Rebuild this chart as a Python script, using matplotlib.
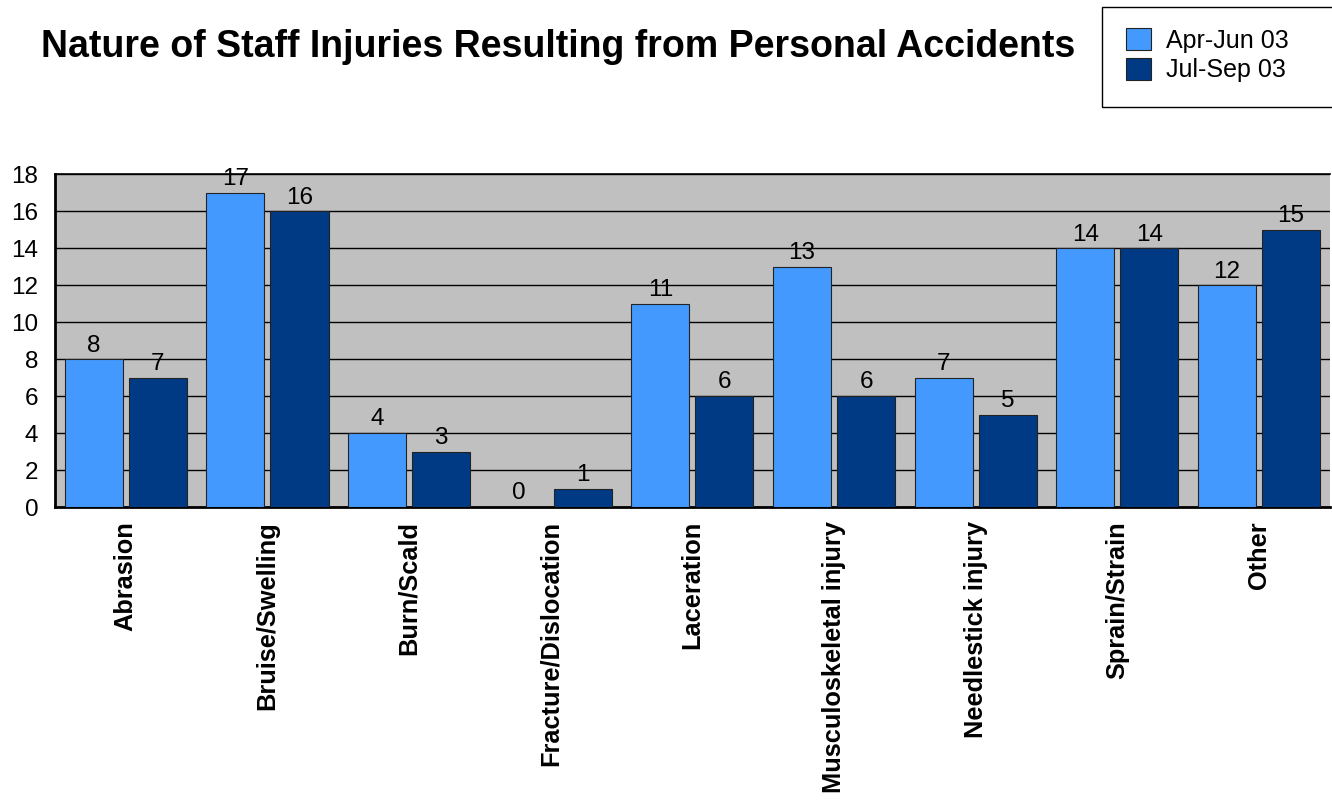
import matplotlib.pyplot as plt
import matplotlib.patches as mpatches
import numpy as np

plt.rcParams['font.family'] = ['Liberation Sans', 'DejaVu Sans']

# Data cedera staf
kategori = ["Abrasion", "Bruise/Swelling", "Burn/Scald", "Fracture/Dislocation",
            "Laceration", "Musculoskeletal injury", "Needlestick injury",
            "Sprain/Strain", "Other"]
apr_jun = [8, 17, 4, 0, 11, 13, 7, 14, 12]
jul_sep = [7, 16, 3, 1, 6, 6, 5, 14, 15]
label_seri = ["Apr-Jun 03", "Jul-Sep 03"]

fig = plt.figure(figsize=(13.32, 8), dpi=100)
ax = fig.add_axes([0.0413, 0.366, 0.957, 0.416])
ax.set_facecolor('#C0C0C0')

x = np.arange(len(kategori))
w = 0.41
b1 = ax.bar(x - 0.226, apr_jun, w, color='#4499FF', edgecolor='#222222', linewidth=0.8,
            label=label_seri[0], zorder=3)
b2 = ax.bar(x + 0.226, jul_sep, w, color='#003A85', edgecolor='#222222', linewidth=0.8,
            label=label_seri[1], zorder=3)
ax.bar_label(b1, fontsize=17.5, padding=2)
ax.bar_label(b2, fontsize=17.5, padding=2)

ax.set_xlim(-0.5, len(kategori) - 0.5)
ax.set_ylim(0, 18)
ax.set_yticks(range(0, 19, 2))
ax.yaxis.grid(True, color='black', linewidth=1, zorder=1)
ax.tick_params(axis='y', length=0, labelsize=17.5, pad=12)
ax.tick_params(axis='x', length=0, pad=10)
ax.set_xticks(x)
ax.set_xticklabels(kategori, rotation=90, fontsize=18.3, fontweight='bold', va='top')
for s in ['left', 'bottom']:
    ax.spines[s].set_linewidth(2)
ax.spines['top'].set_linewidth(1.2)
ax.spines['right'].set_visible(False)

fig.text(0.419, 0.941, "Nature of Staff Injuries Resulting from Personal Accidents",
         fontsize=27, fontweight='bold', ha='center', va='center')

# kotak legenda
kotak = mpatches.Rectangle((1102 / 1332, 1 - 107 / 800), 0.3, 100 / 800,
                           transform=fig.transFigure, fill=False,
                           edgecolor='black', linewidth=1)
fig.patches.append(kotak)
leg = fig.legend(loc='upper left', bbox_to_anchor=(1126 / 1332, 1 - 28 / 800),
                 fontsize=18, frameon=False, handlelength=1.0, handleheight=1.0,
                 borderpad=0, borderaxespad=0, labelspacing=0.2, handletextpad=0.62)

fig.savefig("out.png", dpi=100)
